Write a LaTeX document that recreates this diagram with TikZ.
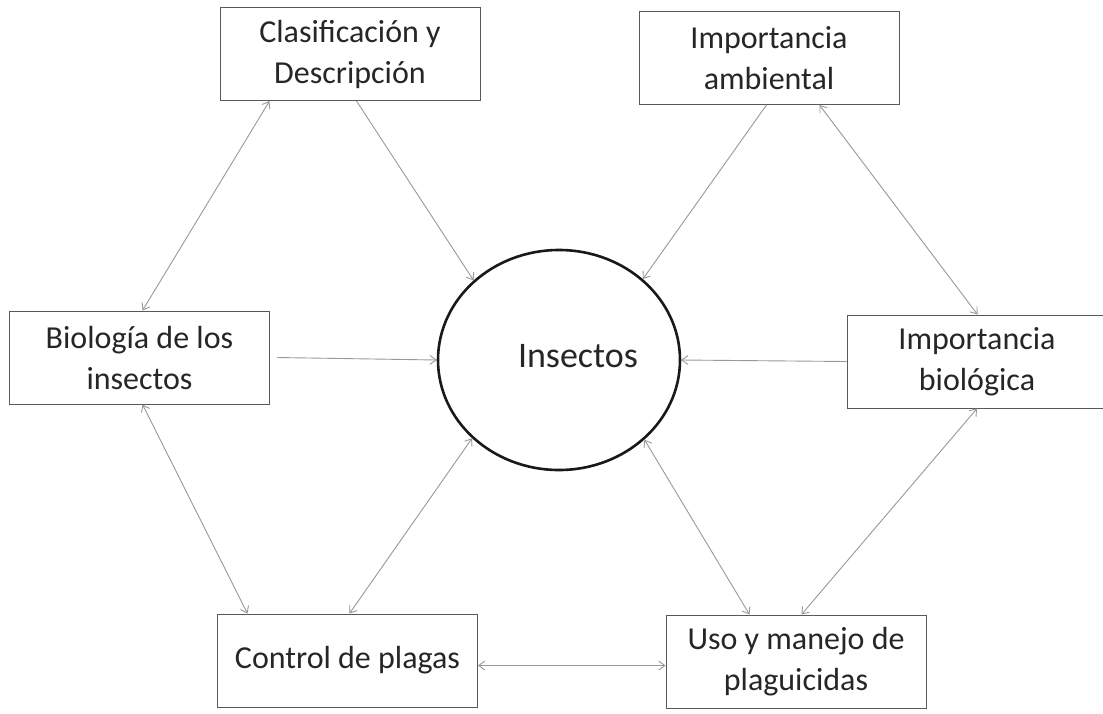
\documentclass[tikz,border=0pt]{standalone}
\usepackage{fontspec}
\setmainfont{Carlito}
\usetikzlibrary{arrows.meta,shapes.geometric,calc}
\begin{document}
\begin{tikzpicture}[x=1pt,y=-1pt,
  box/.style={draw=black!65, line width=1pt, minimum width=260pt, minimum height=93pt,
    inner sep=0pt, align=center, font=\fontsize{32}{41}\selectfont, text=black!85},
  hub/.style={ellipse, draw=black!90, line width=2.6pt, minimum width=242pt,
    minimum height=220pt, inner sep=0pt, font=\fontsize{36}{40}\selectfont, text=black!85},
  conn/.style={draw=black!40, line width=0.9pt},
  one/.style={conn, -{Straight Barb[length=6pt,width=9pt]}},
  two/.style={conn, {Straight Barb[length=6pt,width=9pt]}-{Straight Barb[length=6pt,width=9pt]}}]
\fill[white] (0,0) rectangle (1103,713);
\clip (0,0) rectangle (1103,713);

\node[box] (A) at (350,54) {Clasificación y\\Descripción};
\node[box] (B) at (769,58) {Importancia\\ambiental};
\node[box] (C) at (139.5,357.5) {Biología de los\\insectos};
\node[box] (D) at (977,361.5) {Importancia\\biológica};
\node[box] (E) at (347.5,660.5) {Control de plagas};
\node[box] (F) at (796,661.5) {Uso y manejo de\\plaguicidas};
\node[hub] (I) at (559,360) {\hspace*{38pt}\raisebox{8pt}{Insectos}};

% into the hub
\draw[one] ($(A.south west)+(137,0)$) -- (I.137);
\draw[one] ($(B.south west)+(128,0)$) -- (I.44);
\draw[one] ($(C.east)+(7,0)$) -- (I.west);
\draw[one] (D.west) -- (I.east);
% both ways
\draw[two] ($(A.south west)+(50,0)$) -- ($(C.north west)+(133.5,0)$);
\draw[two] ($(B.south west)+(181,0)$) -- ($(D.north west)+(131,0)$);
\draw[two] ($(C.south west)+(133.5,0)$) -- ($(E.north west)+(30.5,0)$);
\draw[two] ($(E.north west)+(132.5,0)$) -- (I.222);
\draw[two] (I.317) -- ($(F.north west)+(84,0)$);
\draw[two] (D.south) -- ($(F.north west)+(136,0)$);
\draw[two] ($(E.east)+(0,5)$) -- ($(F.west)+(0,4)$);
\end{tikzpicture}
\end{document}
